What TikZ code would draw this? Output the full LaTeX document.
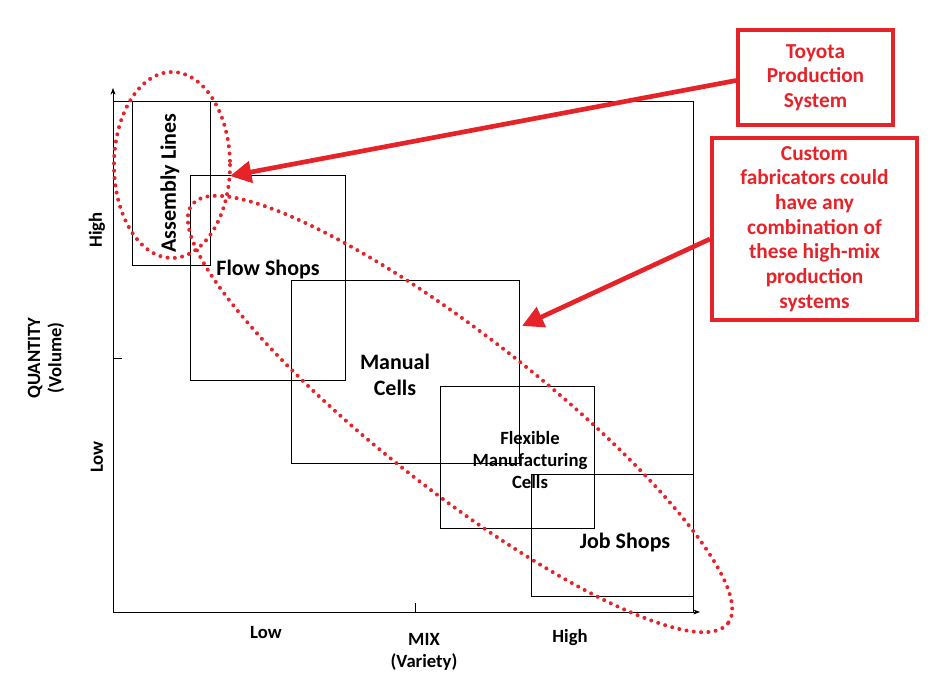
\documentclass[tikz,border=0pt]{standalone}
\usepackage{fontspec}
\setmainfont{Carlito}
\usetikzlibrary{arrows.meta}
\definecolor{rr}{RGB}{230,35,40}
\begin{document}
\begin{tikzpicture}[x=0.75pt,y=-0.75pt,
  box/.style={draw=black,line width=0.6pt},
  lab/.style={font=\bfseries\fontsize{16.5}{19}\selectfont,align=center},
  axl/.style={font=\bfseries\fontsize{14}{16}\selectfont,align=center},
  red/.style={draw=rr,line width=3pt},
  redtxt/.style={text=rr,font=\bfseries\fontsize{16}{18.5}\selectfont,align=center},
  dots/.style={draw=rr,line width=3pt,dash pattern=on 0pt off 5.5pt,line cap=round},
  rarrow/.style={draw=rr,line width=3.5pt,-{Triangle[length=16pt,width=16pt]}}]
\useasboundingbox (0,0) rectangle (933,700);
% axes
\draw[line width=0.6pt,-{Stealth[length=5pt]}] (113,612) -- (113,88);
\draw[line width=0.6pt,-{Stealth[length=5pt]}] (113,612) -- (700,612);
\draw[line width=0.6pt] (113,101) -- (693,101) -- (693,612);
\draw[line width=0.6pt] (113,358) -- (122,358);
\draw[line width=0.6pt] (415,612) -- (415,603);
% rectangles
\draw[box] (132,101) rectangle (210,265);
\draw[box] (190,175) rectangle (345,380);
\draw[box] (291,280) rectangle (519,463);
\draw[box] (440,386) rectangle (594,528);
\draw[box] (531,474) rectangle (693,596);
\node[lab,rotate=90] (al) at (170,183) {Assembly Lines};
\node[lab] (fs) at (268,270) {Flow Shops};
\node[lab] (mc) at (395,375) {Manual\\Cells};
\node[lab,font=\bfseries\fontsize{14}{16.5}\selectfont] (fm) at (530,460) {Flexible\\Manufacturing\\Cells};
\node[lab] (js) at (625,543) {Job Shops};
% axis labels
\node[axl,rotate=90] (qh) at (97,230) {High};
\node[axl,rotate=90] (ql) at (97,457) {Low};
\node[axl,rotate=90] (q) at (46,358) {QUANTITY\\(Volume)};
\node[axl] (ml) at (266,633) {Low};
\node[axl] (m) at (424,652) {MIX\\(Variety)};
\node[axl] (mh) at (570,638) {High};
% ellipses
\draw[dots] (172,165) ellipse [x radius=58, y radius=93];
\draw[dots,rotate around={-38:(460,414)}] (460,414) ellipse [x radius=340, y radius=78];
% red boxes
\node[red,redtxt,minimum width=155*0.75pt,minimum height=95*0.75pt] (tps) at (815.5,77.5) {Toyota\\Production\\System};
\node[red,redtxt,minimum width=205*0.75pt,minimum height=182*0.75pt] (cf) at (814.5,229) {Custom\\fabricators could\\have any\\combination of\\these high-mix\\production\\systems};
\coordinate (t1) at (230,176);
\coordinate (t2) at (522,326);
\draw[rarrow] (tps.west) ++(0,3) -- (t1);
\draw[rarrow] (cf.west) ++(0,10) -- (t2);
\end{tikzpicture}
\end{document}
